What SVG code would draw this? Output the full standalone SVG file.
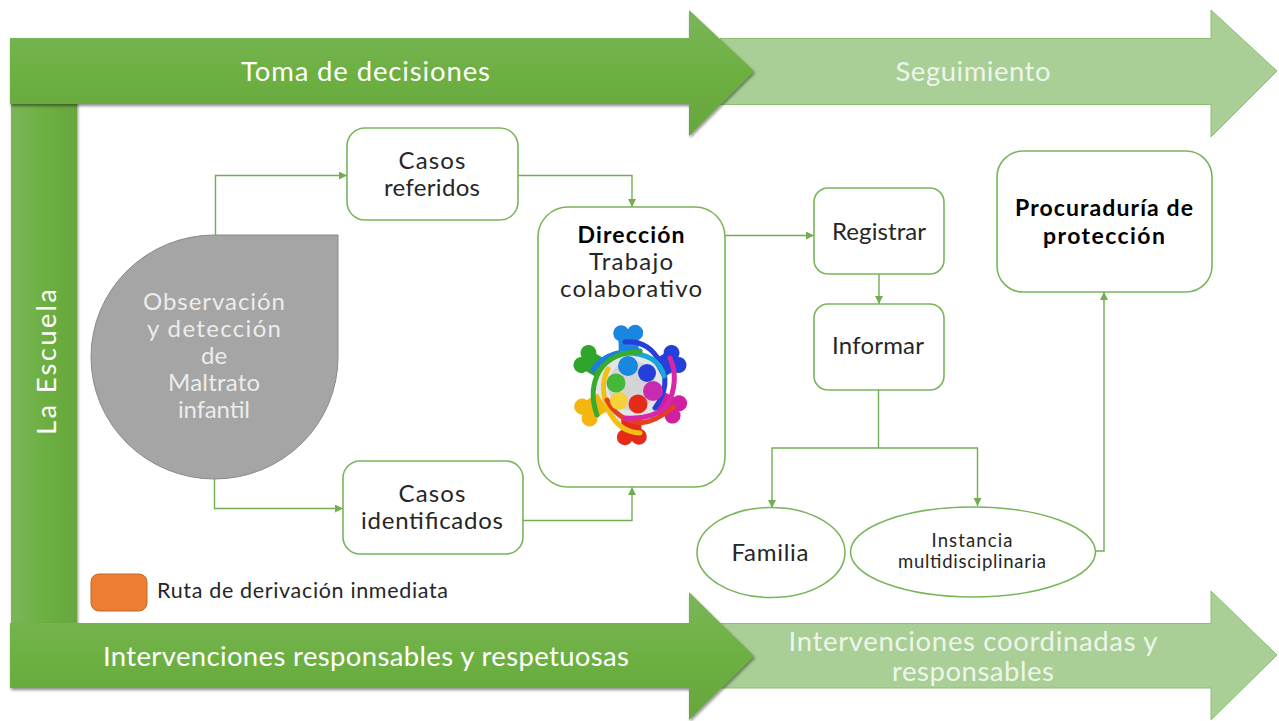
<svg xmlns="http://www.w3.org/2000/svg" width="1279" height="721" viewBox="0 0 1279 721">
<style>
text{font-family:"Lato","Open Sans","Liberation Sans",sans-serif;}
.w{fill:#fff;font-size:27.500px;text-anchor:middle}
.lw{fill:#eef5ea;font-size:27.500px;text-anchor:middle}
.d{fill:#262626;font-size:24px;text-anchor:middle}
.b{fill:#000;font-size:23px;font-weight:700;text-anchor:middle}
.g{fill:#ececec;font-size:24px;text-anchor:middle}
.s{font-size:18.500px}
.l{font-size:21.500px;text-anchor:start}
.n{fill:#fff;stroke:#7ab55c;stroke-width:1.6}
.c{fill:none;stroke:#72ae4f;stroke-width:1.4}
.ca{fill:none;stroke:#72ae4f;stroke-width:1.4;marker-end:url(#ah)}
.arm{fill:none;stroke-linecap:round;stroke-width:5}
</style>
<defs>
<marker id="ah" markerUnits="userSpaceOnUse" markerWidth="9" markerHeight="9" refX="8" refY="4" orient="auto"><path d="M0 0L8 4L0 8z" fill="#72ae4f"/></marker>
<linearGradient id="gv" x1="0" y1="0" x2="0" y2="1"><stop offset="0" stop-color="#7ab65a"/><stop offset=".5" stop-color="#6db042"/><stop offset="1" stop-color="#66a63e"/></linearGradient>
<linearGradient id="gh" x1="0" y1="0" x2="1" y2="0"><stop offset="0" stop-color="#7ab65a"/><stop offset=".5" stop-color="#6db042"/><stop offset="1" stop-color="#66a63e"/></linearGradient>
<filter id="sh" x="-5%" y="-10%" width="110%" height="125%"><feDropShadow dx="1" dy="2" stdDeviation="1.500" flood-color="#000" flood-opacity=".45"/></filter>
<g id="fig"><circle cx="-7" cy="-52" r="8"/><circle cx="7" cy="-52" r="8"/><rect x="-10" y="-52" width="20" height="20"/></g>
</defs>

<g id="arrow-seguimiento">
<path d="M720 38.500H1211V10L1277 71L1211 137V104.500H720z" fill="#a9cf96" stroke="#8cc070" stroke-width="1"/>
<text class="lw" x="973" y="81" textLength="155">Seguimiento</text>
</g>
<g id="arrow-coordinadas">
<path d="M720 623.500H1211V591L1277 655L1211 720V688H720z" fill="#a9cf96" stroke="#8cc070" stroke-width="1"/>
<text class="lw" x="973" y="651" textLength="369">Intervenciones coordinadas y</text>
<text class="lw" x="973" y="681" textLength="162">responsables</text>
</g>
<g id="la-escuela">
<rect x="11" y="100" width="66" height="526" fill="url(#gh)" filter="url(#sh)"/>
<text class="w" transform="translate(56 362) rotate(-90)" textLength="146">La Escuela</text>
</g>
<g id="arrow-toma">
<path d="M10 38H689V10L754 71L689 136V104H10z" fill="url(#gv)" filter="url(#sh)"/>
<text class="w" x="365.500" y="81" textLength="249">Toma de decisiones</text>
</g>
<g id="arrow-intervenciones">
<path d="M10 623H689V592L754 656L689 720V688H10z" fill="url(#gv)" filter="url(#sh)"/>
<text class="w" x="366" y="666" textLength="526">Intervenciones responsables y respetuosas</text>
</g>

<g id="connectors">
<path class="ca" d="M215.500 235V175.500H347"/>
<path class="ca" d="M214.500 478V508.500H343"/>
<path class="ca" d="M518 175.500H632V207"/>
<path class="ca" d="M523 520.500H632V487"/>
<path class="ca" d="M725 235.500H814"/>
<path class="ca" d="M879 274V304"/>
<path class="c" d="M878.500 390V448"/>
<path class="ca" d="M878.500 448H772V508"/>
<path class="ca" d="M878.500 448H977.500V506"/>
<path class="ca" d="M1096 551H1104V292"/>
</g>

<g id="observacion">
<path d="M338 235V357A123.500 122 0 1 1 214.500 235z" fill="#a5a5a5" stroke="#8a8a8a" stroke-width="1"/>
<text class="g" x="214" y="310" textLength="142">Observación</text>
<text class="g" x="214" y="337" textLength="134">y detección</text>
<text class="g" x="214" y="364">de</text>
<text class="g" x="214" y="391" textLength="92">Maltrato</text>
<text class="g" x="214" y="418" textLength="72">infantil</text>
</g>
<g id="casos-referidos">
<rect class="n" x="347" y="128" width="171" height="92" rx="18"/>
<text class="d" x="432" y="169" textLength="67">Casos</text>
<text class="d" x="432" y="196" textLength="96">referidos</text>
</g>
<g id="casos-identificados">
<rect class="n" x="343" y="461" width="180" height="93" rx="17"/>
<text class="d" x="432" y="502" textLength="67">Casos</text>
<text class="d" x="432" y="529" textLength="142">identificados</text>
</g>
<g id="direccion">
<rect class="n" x="538" y="207" width="187" height="280" rx="30"/>
<text class="b" x="631" y="243" textLength="107">Dirección</text>
<text class="d" x="631" y="270" textLength="84">Trabajo</text>
<text class="d" x="631" y="297" textLength="142">colaborativo</text>
<g id="icono">
<ellipse cx="630" cy="388" rx="34" ry="36" fill="#bdbdbd" opacity=".4"/>
<g transform="translate(630 385)">
<use href="#fig" fill="#1a86e0" transform="rotate(-2)"/>
<use href="#fig" fill="#2540d8" transform="rotate(60)"/>
<use href="#fig" fill="#d020a0" transform="rotate(118)"/>
<use href="#fig" fill="#e42a18" transform="rotate(178)"/>
<use href="#fig" fill="#f4b60e" transform="rotate(238)"/>
<use href="#fig" fill="#2fa52c" transform="rotate(300)"/>
</g>
<ellipse cx="632" cy="386" rx="24" ry="25" fill="#d4d4d4"/>
<path class="arm" stroke="#1a7fe0" d="M593 370Q605 350 640 351"/>
<path class="arm" stroke="#2540d8" d="M625 342Q648 340 660 362Q672 385 655 408"/>
<path class="arm" stroke="#18a8d8" d="M622 353Q658 352 664 376"/>
<path class="arm" stroke="#35ab30" d="M640 352Q612 352 600 370Q588 390 597 415"/>
<path class="arm" stroke="#f2c012" d="M608 369Q598 388 610 413Q620 432 640 433"/>
<path class="arm" stroke="#e5401c" d="M607 400Q617 420 640 423Q656 422 673 407"/>
<path class="arm" stroke="#d826a8" d="M670 358Q680 380 667 407Q650 420 625 418"/>
<circle cx="628" cy="366" r="10" fill="#1887de"/>
<circle cx="647" cy="373" r="9" fill="#2540d8"/>
<circle cx="653" cy="391" r="10" fill="#c82ab0"/>
<circle cx="638" cy="404" r="9.500" fill="#e42a18"/>
<circle cx="619" cy="401" r="9" fill="#f6d23a"/>
<circle cx="616" cy="383" r="9.500" fill="#45b83a"/>
</g>
</g>
<g id="registrar">
<rect class="n" x="814" y="188" width="130" height="86" rx="14"/>
<text class="d" x="879" y="240" textLength="94">Registrar</text>
</g>
<g id="informar">
<rect class="n" x="814" y="304" width="130" height="86" rx="14"/>
<text class="d" x="878" y="354" textLength="92">Informar</text>
</g>
<g id="procuraduria">
<rect class="n" x="997" y="151" width="215" height="141" rx="26"/>
<text class="b" x="1104" y="216" textLength="178">Procuraduría de</text>
<text class="b" x="1104" y="244" textLength="122">protección</text>
</g>
<g id="familia">
<ellipse class="n" cx="771" cy="552.500" rx="74" ry="45"/>
<text class="d" x="770" y="561" textLength="77">Familia</text>
</g>
<g id="instancia">
<ellipse class="n" cx="973" cy="552" rx="122.500" ry="45"/>
<text class="d s" x="972" y="547" textLength="81">Instancia</text>
<text class="d s" x="972" y="568" textLength="148">multidisciplinaria</text>
</g>
<g id="leyenda">
<rect x="91" y="574" width="56" height="37" rx="8" fill="#ed7d31" stroke="#c0692d" stroke-width="1"/>
<text class="d l" x="157" y="598" textLength="291">Ruta de derivación inmediata</text>
</g>
</svg>
